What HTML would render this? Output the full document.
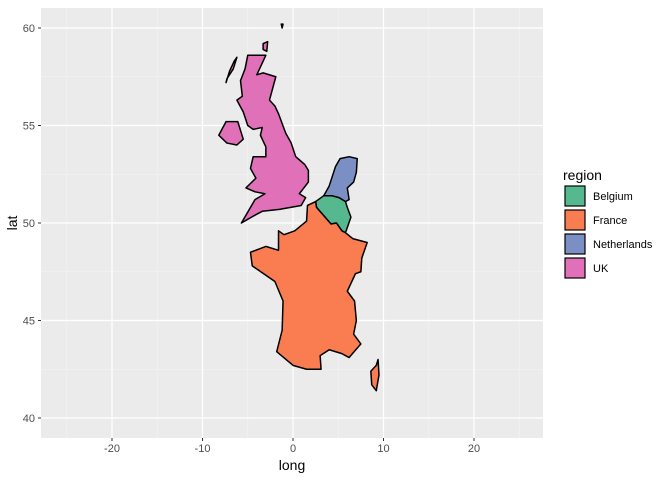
<!DOCTYPE html>
<html><head><meta charset="utf-8"><style>
body{margin:0;background:#fff;font-family:"Liberation Sans",sans-serif}
svg text{font-family:"Liberation Sans",sans-serif}
</style></head><body>
<svg id="c" width="672" height="480" xmlns="http://www.w3.org/2000/svg">
<rect x="41" y="8" width="502" height="430" fill="#ebebeb"/>
<g id="grid"></g><g id="shapes"></g><g id="axes"></g>
<text x="292" y="470" font-size="14" text-anchor="middle" fill="#000">long</text>
<text x="17" y="223" font-size="14" text-anchor="middle" fill="#000" transform="rotate(-90 17 223)">lat</text>
<g id="legend"><text x="563" y="180" font-size="14" fill="#000">region</text></g>
</svg>
<script>
const xTicks=[-20,-10,0,10,20];
const yTicks=[40,45,50,55,60];
const xMinor=[-25,-15,-5,5,15,25];
const yMinor=[42.5,47.5,52.5,57.5];
const regions=["Belgium","France","Netherlands","UK"];
const colors=["#55b88f","#f97d50","#7b8fc4","#e070b8"];
const belgium=[[2.5,51.1],[3.4,51.4],[4.3,51.4],[5.1,51.3],[5.8,51.1],[6.0,50.8],[6.4,50.3],[5.8,49.5],[5.4,49.6],[4.8,50.0],[4.2,49.95],[2.6,50.8]];
const france=[[2.5,51.1],[2.6,50.8],[4.2,49.95],[4.8,50.0],[5.4,49.6],[5.8,49.5],[6.6,49.2],[8.2,49.0],[7.6,48.2],[7.5,47.5],[6.9,47.4],[6.0,46.5],[6.8,46.0],[7.0,45.0],[6.7,44.3],[7.5,43.8],[6.2,43.1],[5.4,43.3],[4.0,43.5],[3.0,43.2],[3.1,42.5],[1.5,42.5],[0.0,42.7],[-1.8,43.4],[-1.2,44.5],[-1.1,46.0],[-2.0,47.0],[-4.5,47.8],[-4.7,48.5],[-3.0,48.8],[-1.6,48.6],[-1.6,49.6],[-1.0,49.4],[0.2,49.6],[1.5,50.1],[1.6,50.9]];
const corsica=[[9.4,43.0],[9.5,42.2],[9.2,41.4],[8.7,41.7],[8.6,42.4],[9.2,42.7]];
const netherlands=[[3.4,51.4],[4.0,51.9],[4.7,52.9],[5.2,53.3],[6.2,53.4],[7.1,53.3],[7.0,52.6],[6.7,52.1],[6.0,51.8],[6.2,51.2],[5.8,51.1],[5.1,51.3],[4.3,51.4]];
const britain=[[1.7,52.7],[1.3,53.0],[0.3,53.4],[-0.2,54.1],[-0.8,54.6],[-1.6,55.6],[-2.0,56.0],[-2.6,56.3],[-1.9,57.5],[-3.3,57.7],[-4.0,57.6],[-3.0,58.6],[-4.4,58.6],[-5.0,58.6],[-5.3,57.9],[-5.8,57.3],[-5.6,56.5],[-6.2,56.3],[-5.5,55.7],[-5.0,55.0],[-4.4,54.8],[-3.4,54.9],[-3.6,54.5],[-3.0,53.9],[-3.0,53.4],[-4.4,53.4],[-4.7,52.8],[-4.1,52.3],[-5.2,51.8],[-4.2,51.6],[-3.1,51.5],[-4.2,51.2],[-5.7,50.0],[-4.2,50.4],[-3.4,50.6],[-1.5,50.7],[0.9,50.9],[1.4,51.3],[0.7,51.5],[1.7,52.1]];
const nireland=[[-5.5,54.3],[-6.2,54.0],[-7.3,54.1],[-8.2,54.5],[-7.4,55.2],[-6.1,55.2],[-5.7,54.6]];
const hebrides=[[-6.2,58.5],[-6.6,57.9],[-7.3,57.4],[-7.4,57.2],[-7.0,57.8],[-6.5,58.3]];
const orkney=[[-3.3,59.2],[-2.8,59.3],[-2.9,58.8],[-3.3,58.9]];
const shetland=[[-1.3,60.2],[-1.1,60.2],[-1.2,60.0]];
const shapes=[[belgium,0],[france,1],[corsica,1],[netherlands,2],[britain,3],[nireland,3],[hebrides,3],[orkney,3],[shetland,3]];
const sx=v=>293+v*9.05, sy=v=>223-(v-50)*19.5;
const NS="http://www.w3.org/2000/svg";
function mk(t,a,p){const e=document.createElementNS(NS,t);for(const k in a)e.setAttribute(k,a[k]);p.appendChild(e);return e;}
const G=document.getElementById('grid'),S=document.getElementById('shapes'),A=document.getElementById('axes'),L=document.getElementById('legend');
xMinor.forEach(v=>{const e=mk('line',{x1:sx(v),x2:sx(v),y1:8,y2:438,stroke:'#f5f5f5','stroke-width':0.6},G);

});
yMinor.forEach(v=>{const e=mk('line',{x1:41,x2:543,y1:sy(v),y2:sy(v),stroke:'#f5f5f5','stroke-width':0.6},G);

});
xTicks.forEach(v=>{const e=mk('line',{x1:sx(v),x2:sx(v),y1:8,y2:438,stroke:'#fff','stroke-width':1.2},G);


const tk=mk('line',{x1:sx(v),x2:sx(v),y1:438,y2:441,stroke:'#333'},A);


const t=mk('text',{x:sx(v),y:452,'font-size':11,'text-anchor':'middle',fill:'#4d4d4d'},A);t.textContent=v;

});
yTicks.forEach(v=>{const e=mk('line',{x1:41,x2:543,y1:sy(v),y2:sy(v),stroke:'#fff','stroke-width':1.2},G);


const tk=mk('line',{x1:38,x2:41,y1:sy(v),y2:sy(v),stroke:'#333'},A);


const t=mk('text',{x:35,y:sy(v)+4,'font-size':11,'text-anchor':'end',fill:'#4d4d4d'},A);t.textContent=v;

});
shapes.forEach(([pts,ri])=>{const p=mk('polygon',{points:pts.map(q=>sx(q[0])+','+sy(q[1])).join(' '),fill:colors[ri],stroke:'#000','stroke-width':1.5,'stroke-linejoin':'round'},S);

});
regions.forEach((r,i)=>{const y=186+i*24;
const k=mk('rect',{x:565,y:y,width:20,height:20,fill:colors[i],stroke:'#000','stroke-width':1.2},L);


const t=mk('text',{x:593,y:y+14,'font-size':11,fill:'#000'},L);t.textContent=r;

});
</script>
</body></html>
